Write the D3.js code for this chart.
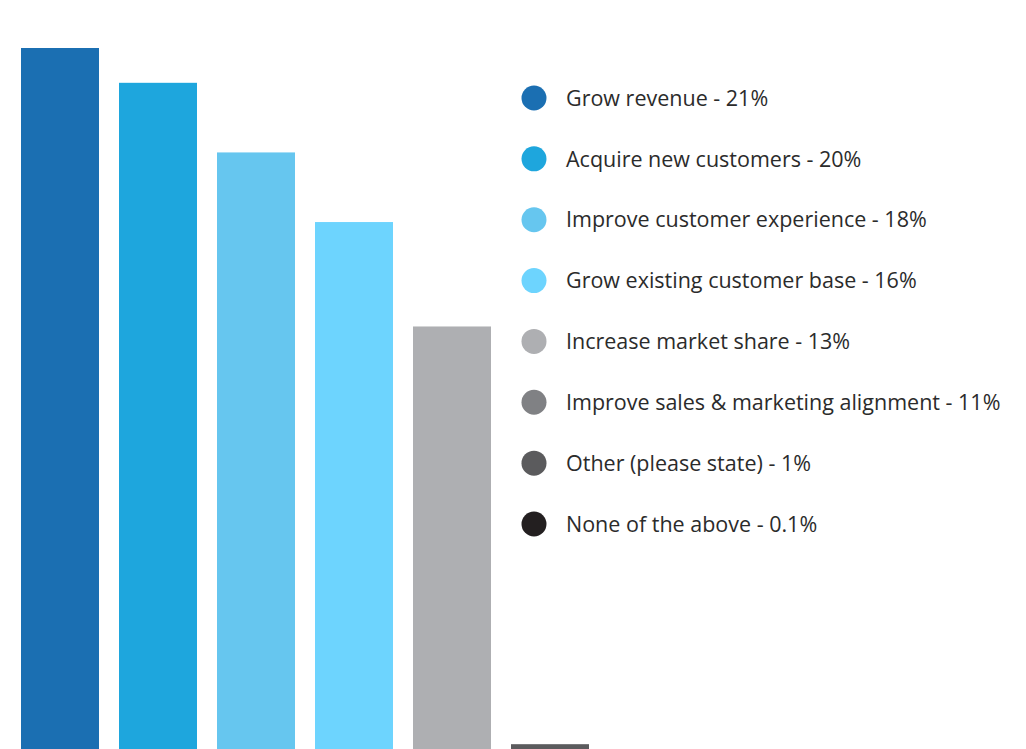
<!DOCTYPE html>
<html>
<head>
<meta charset="utf-8">
<script src="https://cdn.jsdelivr.net/npm/d3@7"></script>
<style>
  html, body { margin: 0; padding: 0; background: #ffffff; }
  svg { display: block; }
</style>
</head>
<body>
<svg id="chart" width="1026" height="749"></svg>
<script>
// Business priorities survey: share of respondents per answer
const categories = [
  "Grow revenue",
  "Acquire new customers",
  "Improve customer experience",
  "Grow existing customer base",
  "Increase market share",
  "Improve sales & marketing alignment",
  "Other (please state)",
  "None of the above"
];
const values = [21, 20, 18, 16, 13, 11, 1, 0.1];
const valueLabels = ["21%", "20%", "18%", "16%", "13%", "11%", "1%", "0.1%"];
const colors = ["#1b6fb2", "#1ea6dd", "#66c6ef", "#6dd4fe", "#aeafb2", "#808184", "#5b5b5d", "#231f20"];

// Answers drawn as columns, in column order
const barCategories = [
  "Grow revenue",
  "Acquire new customers",
  "Improve customer experience",
  "Grow existing customer base",
  "Increase market share",
  "Other (please state)",
  "None of the above"
];

const svg = d3.select("#chart");

const byName = new Map(categories.map((c, i) => [c, { name: c, value: values[i], color: colors[i], label: valueLabels[i] }]));

// 78px columns on a 98px step, first column starting at x = 21
const x = d3.scaleBand()
  .domain(barCategories)
  .range([21, 21 + 98 * barCategories.length - 20])
  .paddingInner(20 / 98)
  .paddingOuter(0);

const y = d3.scaleLinear()
  .domain([0, 21])
  .range([779, 48]);

svg.append("g")
  .selectAll("rect")
  .data(barCategories.map(c => byName.get(c)))
  .join("rect")
  .attr("x", d => x(d.name))
  .attr("width", x.bandwidth())
  .attr("y", d => y(d.value))
  .attr("height", d => Math.max(0, y(0) - y(d.value)))
  .attr("fill", d => d.color);

// Legend
const legendY = d3.scalePoint()
  .domain(categories)
  .range([98, 524]);

const legend = svg.append("g")
  .selectAll("g")
  .data(categories.map(c => byName.get(c)))
  .join("g")
  .attr("transform", d => `translate(534,${legendY(d.name)})`);

legend.append("circle")
  .attr("r", 12.5)
  .attr("fill", d => d.color);

legend.append("text")
  .attr("x", 32)
  .attr("dy", "0.36em")
  .attr("font-family", "'Open Sans', sans-serif")
  .attr("font-weight", 400)
  .attr("font-size", 21.5)
  .attr("fill", "#2b2b2b")
  .text(d => `${d.name} - ${d.label}`);
</script>
</body>
</html>
